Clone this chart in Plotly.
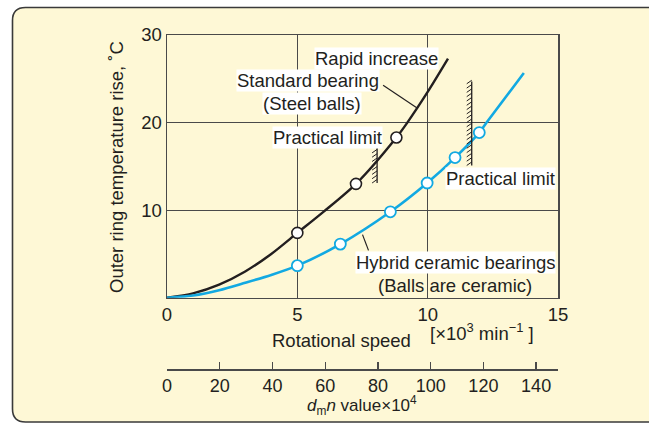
import plotly.graph_objects as go

# ---------------- data ----------------
# Standard bearing (steel balls): curve points and marked points
steel_speed = [0, 1, 2, 3, 4, 5, 6, 7.25, 8.8, 9.22, 10.0, 10.78]
steel_rise = [0, 0.5, 1.5, 3.0, 5.0, 7.4, 9.8, 13.0, 18.3, 20.0, 23.5, 27.3]
steel_mark_speed = [5, 7.25, 8.8]
steel_mark_rise = [7.4, 13.0, 18.3]

# Hybrid ceramic bearings: curve points and marked points
hybrid_speed = [0, 1, 2, 3, 4, 5, 6.65, 8.57, 9.98, 11.05, 11.98, 12.26, 13.69]
hybrid_rise = [0, 0.25, 0.85, 1.7, 2.6, 3.66, 6.12, 9.81, 13.1, 16.0, 18.86, 20.0, 25.66]
hybrid_mark_speed = [5, 6.65, 8.57, 9.98, 11.05, 11.98]
hybrid_mark_rise = [3.66, 6.12, 9.81, 13.1, 16.0, 18.86]

# practical-limit walls: (speed, rise from, rise to)
wall_speed = [8.06, 11.69]
wall_rise_lo = [13.1, 15.1]
wall_rise_hi = [17.1, 24.7]

x_ticks = [0, 5, 10, 15]
y_ticks = [10, 20, 30]
dmn_ticks = [0, 20, 40, 60, 80, 100, 120, 140]
dmn_max = 148.3

# ---------------- layout geometry ----------------
W, H = 649, 423
ML, MR, MT, MB = 167, 91, 35, 54
PW = W - ML - MR
PH = H - MT - MB
plot_bottom_px = 297.7
y_dom0 = (H - MB - plot_bottom_px) / PH


def xp(px):
    return (px - ML) / PW


def yp(py):
    return (H - MB - py) / PH


INK = "#231F20"
GRID = "#4a4a4a"
BLUE = "#12A9E2"
FONT = "Liberation Sans, Arial, Helvetica, sans-serif"
FS = 18.5

fig = go.Figure()

fig.add_trace(go.Scatter(x=steel_speed, y=steel_rise, mode="lines",
                         line=dict(color=INK, width=2.4, shape="spline", smoothing=0.8),
                         showlegend=False, hoverinfo="skip"))
fig.add_trace(go.Scatter(x=hybrid_speed, y=hybrid_rise, mode="lines",
                         line=dict(color=BLUE, width=2.6, shape="spline", smoothing=0.8),
                         showlegend=False, hoverinfo="skip"))
fig.add_trace(go.Scatter(x=steel_mark_speed, y=steel_mark_rise, mode="markers",
                         marker=dict(symbol="circle", size=11, color="white",
                                     line=dict(color=INK, width=1.6)),
                         showlegend=False, hoverinfo="skip"))
fig.add_trace(go.Scatter(x=hybrid_mark_speed, y=hybrid_mark_rise, mode="markers",
                         marker=dict(symbol="circle", size=11, color="white",
                                     line=dict(color=BLUE, width=1.8)),
                         showlegend=False, hoverinfo="skip"))
# invisible trace so the secondary (dmn) axis is drawn
fig.add_trace(go.Scatter(x=[0], y=[0], xaxis="x2", mode="markers",
                         marker=dict(opacity=0), showlegend=False, hoverinfo="skip"))

shapes = []
# cream rounded frame
L, T, R, B, rad = 12.5, 7.5, 665, 422, 13
path = (f"M {xp(L)},{yp(T + rad)} Q {xp(L)},{yp(T)} {xp(L + rad)},{yp(T)} "
        f"L {xp(R)},{yp(T)} L {xp(R)},{yp(B)} L {xp(L + rad)},{yp(B)} "
        f"Q {xp(L)},{yp(B)} {xp(L)},{yp(B - rad)} Z")
shapes.append(dict(type="path", xref="paper", yref="paper", path=path,
                   fillcolor="#FEF8D6", line=dict(color="#3a3a3a", width=1.6),
                   layer="below"))

# hatched walls
ux = 15 / PW       # data units per px along x
uy = 30 / (plot_bottom_px - MT)  # data units per px along y
for ws, lo, hi in zip(wall_speed, wall_rise_lo, wall_rise_hi):
    shapes.append(dict(type="line", xref="x", yref="y", x0=ws, x1=ws, y0=lo, y1=hi,
                       line=dict(color=INK, width=1.3)))
    y = lo
    while y < hi - 0.1:
        shapes.append(dict(type="line", xref="x", yref="y",
                           x0=ws - 5 * ux, y0=y, x1=ws, y1=y + 3.5 * uy,
                           line=dict(color=INK, width=1)))
        y += 4.3 * uy

# leader lines
shapes.append(dict(type="line", xref="x", yref="y", x0=8.29, y0=24.25, x1=9.58, y1=21.7,
                   line=dict(color=INK, width=1.2)))
shapes.append(dict(type="line", xref="x", yref="y", x0=7.5, y0=7.2, x1=7.73, y1=5.4,
                   line=dict(color=INK, width=1.2)))

tf = dict(family=FONT, size=FS, color=INK)
ann = []


def label(text, px, py, bg=None, size=FS):
    a = dict(text=text, xref="paper", yref="paper", x=xp(px), y=yp(py),
             xanchor="center", yanchor="middle", showarrow=False,
             font=dict(family=FONT, size=size, color=INK), borderpad=0)
    if bg:
        a["bgcolor"] = bg
    ann.append(a)


label("Rapid increase", 376, 58, bg="white")
label("Standard bearing", 308, 80, bg="white")
label("(Steel balls)", 311.5, 103, bg="white")
label("Practical limit", 327, 137, bg="white")
label("Practical limit", 500, 178, bg="white")
label("Hybrid ceramic bearings", 455, 262, bg="white")
label("(Balls are ceramic)", 455, 285)
label("Rotational speed", 341, 340)
label("[×10<sup>3</sup> min<sup>−1</sup> ]", 482, 332)
label("<i>d</i><sub>m</sub><i>n</i> value×10<sup>4</sup>", 362, 405, size=17)
ann.append(dict(text="Outer ring temperature rise, ˚C", xref="paper", yref="paper",
                x=xp(116), y=yp(167), textangle=-90, xanchor="center", yanchor="middle",
                showarrow=False, font=tf))

fig.update_layout(
    width=W, height=H,
    margin=dict(l=ML, r=MR, t=MT, b=MB, pad=0),
    paper_bgcolor="white", plot_bgcolor="white",
    font=tf,
    shapes=shapes, annotations=ann,
    hovermode=False,
    xaxis=dict(range=[0, 15], tickvals=x_ticks, ticktext=[str(v) for v in x_ticks],
               showgrid=True, gridcolor=GRID, gridwidth=1.2, zeroline=False,
               showline=True, linecolor=GRID, linewidth=1.5, mirror=True,
               ticks="", tickfont=tf, anchor="y"),
    yaxis=dict(range=[0, 30], domain=[y_dom0, 1], tickvals=y_ticks,
               ticktext=[str(v) for v in y_ticks],
               showgrid=True, gridcolor=GRID, gridwidth=1.2, zeroline=False,
               showline=True, linecolor=GRID, linewidth=1.5, mirror=True,
               ticks="", tickfont=tf),
    xaxis2=dict(range=[0, dmn_max], overlaying="x", anchor="free", position=0,
                side="bottom", tickvals=dmn_ticks, ticktext=[str(v) for v in dmn_ticks],
                ticks="inside", ticklen=7, tickwidth=1.3, tickcolor=GRID,
                showline=True, linecolor=GRID, linewidth=1.5, showgrid=False,
                zeroline=False, tickfont=dict(family=FONT, size=18, color=INK)),
)

fig.write_html("out.html",
               config={"displayModeBar": False, "staticPlot": True},
               post_script="document.body.style.margin='0';"
                           "document.body.style.overflow='hidden';")
